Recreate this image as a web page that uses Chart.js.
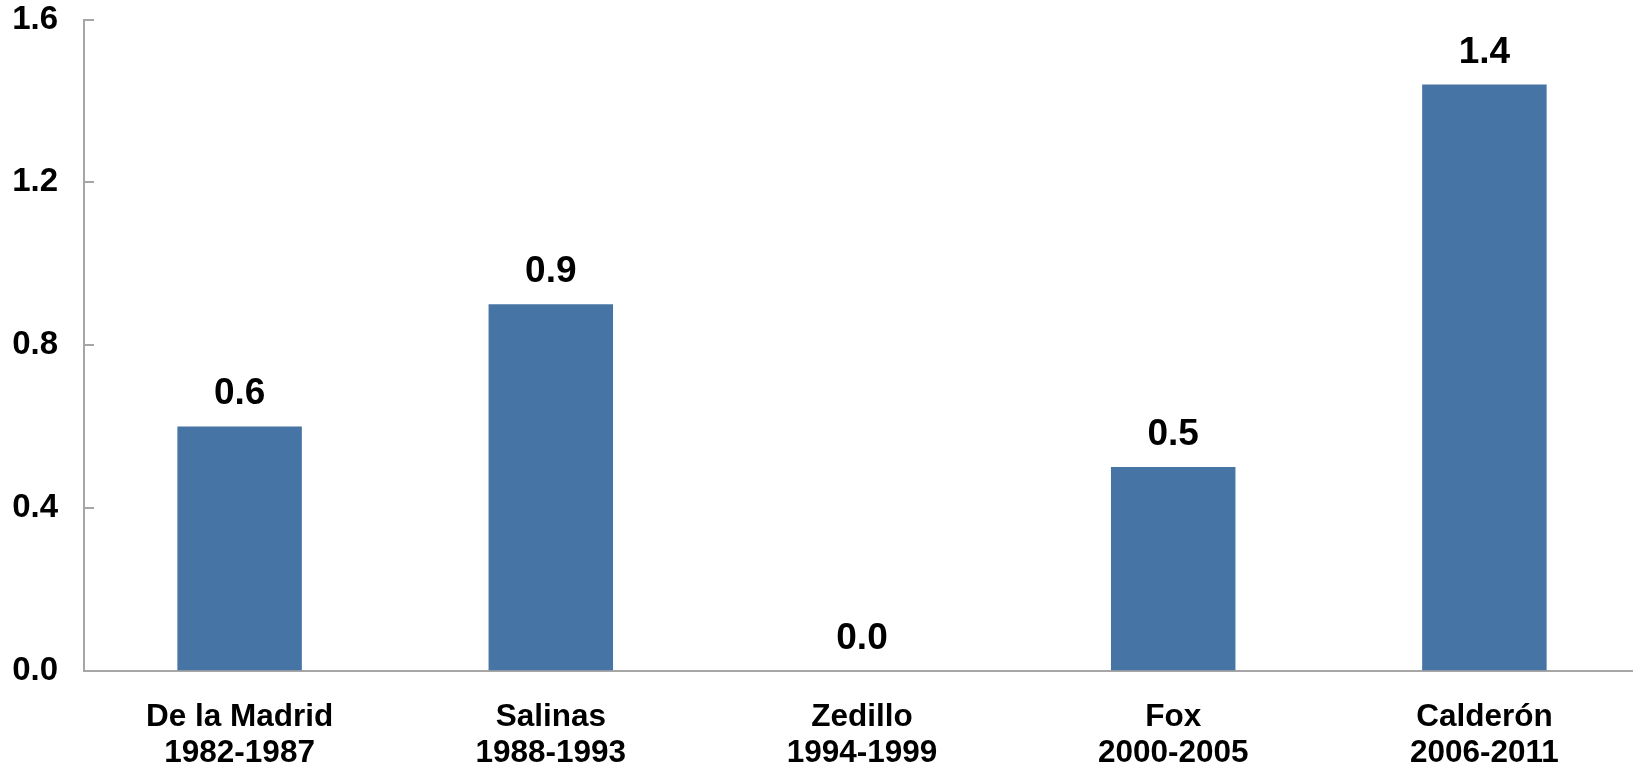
<!DOCTYPE html>
<html>
<head>
<meta charset="utf-8">
<script src="https://cdn.jsdelivr.net/npm/chart.js@4/dist/chart.umd.min.js"></script>
<style>
  html, body { margin: 0; padding: 0; background: #ffffff; overflow: hidden; }
  #wrap { position: relative; width: 1640px; height: 765px; }
</style>
</head>
<body>
<div id="wrap"><canvas id="c"></canvas></div>
<script>
const categories = [
  ["De la Madrid", "1982-1987"],
  ["Salinas", "1988-1993"],
  ["Zedillo", "1994-1999"],
  ["Fox", "2000-2005"],
  ["Calderón", "2006-2011"]
];
const values = [0.6, 0.9, 0.0, 0.5, 1.44];
const yTicks = [0.0, 0.4, 0.8, 1.2, 1.6];

const FONT = "'Liberation Sans', Arial, sans-serif";
const AXIS_COLOR = "#a6a6a6";
const BAR_COLOR = "#4674a4";

const extras = {
  id: "extras",
  afterDatasetsDraw(chart) {
    const ctx = chart.ctx;
    const y = chart.scales.y;
    const area = chart.chartArea;
    ctx.save();
    // inward tick marks on y axis
    ctx.strokeStyle = AXIS_COLOR;
    ctx.lineWidth = 2;
    y.ticks.forEach((t, i) => {
      const py = Math.round(y.getPixelForTick(i));
      ctx.beginPath();
      ctx.moveTo(area.left, py);
      ctx.lineTo(area.left + 10, py);
      ctx.stroke();
    });
    // value labels
    ctx.fillStyle = "#000";
    ctx.font = "bold 37px " + FONT;
    ctx.textAlign = "center";
    ctx.textBaseline = "alphabetic";
    const meta = chart.getDatasetMeta(0);
    meta.data.forEach((bar, i) => {
      ctx.fillText(values[i].toFixed(1), bar.x, bar.y - 22);
    });
    ctx.restore();
  }
};

new Chart(document.getElementById("c"), {
  type: "bar",
  data: {
    labels: categories,
    datasets: [{
      data: values,
      backgroundColor: BAR_COLOR,
      borderWidth: 0,
      barPercentage: 0.4,
      categoryPercentage: 1.0
    }]
  },
  options: {
    responsive: true,
    maintainAspectRatio: false,
    devicePixelRatio: 1,
    animation: false,
    layout: { padding: { top: 19.5, right: 0, left: 0, bottom: 0 } },
    plugins: {
      legend: { display: false },
      tooltip: { enabled: false }
    },
    scales: {
      x: {
        grid: { display: false, drawTicks: false },
        border: { display: true, color: AXIS_COLOR, width: 2 },
        ticks: {
          color: "#000",
          font: { family: FONT, size: 31.5, weight: "bold", lineHeight: 1.13 },
          padding: 29,
          maxRotation: 0,
          autoSkip: false
        },
        afterFit(scale) { scale.height = 765 - 670.5; scale.paddingLeft = 0; scale.paddingRight = 0; }
      },
      y: {
        min: 0,
        max: 1.6,
        afterBuildTicks(scale) { scale.ticks = yTicks.map(v => ({ value: v })); },
        grid: { display: false, drawTicks: false },
        border: { display: true, color: AXIS_COLOR, width: 2 },
        ticks: {
          color: "#000",
          font: { family: FONT, size: 33, weight: "bold" },
          padding: 26,
          callback: (v) => Number(v).toFixed(1)
        },
        afterFit(scale) { scale.width = 84; scale.paddingTop = 0; scale.paddingBottom = 0; }
      }
    }
  },
  plugins: [extras]
});
</script>
</body>
</html>
